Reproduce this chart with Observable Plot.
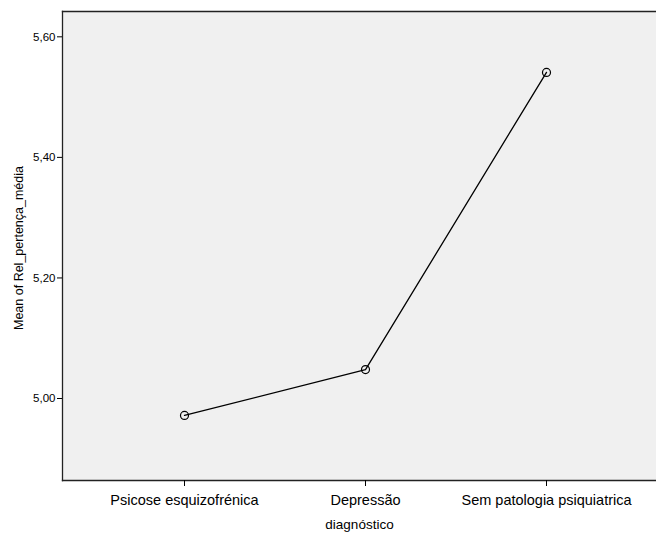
<!DOCTYPE html>
<html>
<head>
<meta charset="utf-8">
<script src="https://cdn.jsdelivr.net/npm/d3@7"></script>
<script src="https://cdn.jsdelivr.net/npm/@observablehq/plot@0.6"></script>
<style>
  html, body { margin: 0; padding: 0; background: #fff; }
  #chart { width: 656px; height: 533px; }
</style>
</head>
<body>
<div id="chart"></div>
<script>
const categories = ["Psicose esquizofrénica", "Depressão", "Sem patologia psiquiatrica"];
const means = [4.972, 5.048, 5.541];
const yTicks = [5.0, 5.2, 5.4, 5.6];
const yTitle = "Mean of Rel_pertença_média";
const xTitle = "diagnóstico";

const data = categories.map((c, i) => ({ cat: c, value: means[i] }));
const fmt = d => d.toFixed(2).replace(".", ",");

const chart = Plot.plot({
  width: 656,
  height: 533,
  marginLeft: 62,
  marginRight: 0,
  marginTop: 11,
  marginBottom: 53,
  style: { fontFamily: "'Liberation Sans', Arial, sans-serif", background: "#fff", color: "#000" },
  x: { type: "point", domain: categories, range: [183, 546], padding: 0 },
  y: { domain: [4.864, 5.642] },
  marks: [
    Plot.frame({ fill: "#f0f0f0", stroke: null }),
    Plot.frame({ anchor: "left", stroke: "#222", strokeWidth: 1.3 }),
    Plot.frame({ anchor: "top", stroke: "#222", strokeWidth: 1.3 }),
    Plot.frame({ anchor: "bottom", stroke: "#222", strokeWidth: 1.3 }),
    Plot.axisY({ ticks: yTicks, tickFormat: fmt, tickSize: 5, tickPadding: 2, fontSize: 11.5, label: null }),
    Plot.text([yTitle], { frameAnchor: "left", dx: -44, dy: 2, rotate: -90, textAnchor: "middle", fontSize: 12.5, text: d => d }),
    Plot.axisX({ tickSize: 6, tickPadding: 8, fontSize: 14.5, label: null }),
    Plot.text([xTitle], { frameAnchor: "bottom", dy: 48, fontSize: 13.5, text: d => d }),
    Plot.line(data, { x: "cat", y: "value", stroke: "#000", strokeWidth: 1.3 }),
    Plot.dot(data, { x: "cat", y: "value", r: 4, stroke: "#000", strokeWidth: 1.2, fill: "none" })
  ]
});
document.getElementById("chart").appendChild(chart);
</script>
</body>
</html>
